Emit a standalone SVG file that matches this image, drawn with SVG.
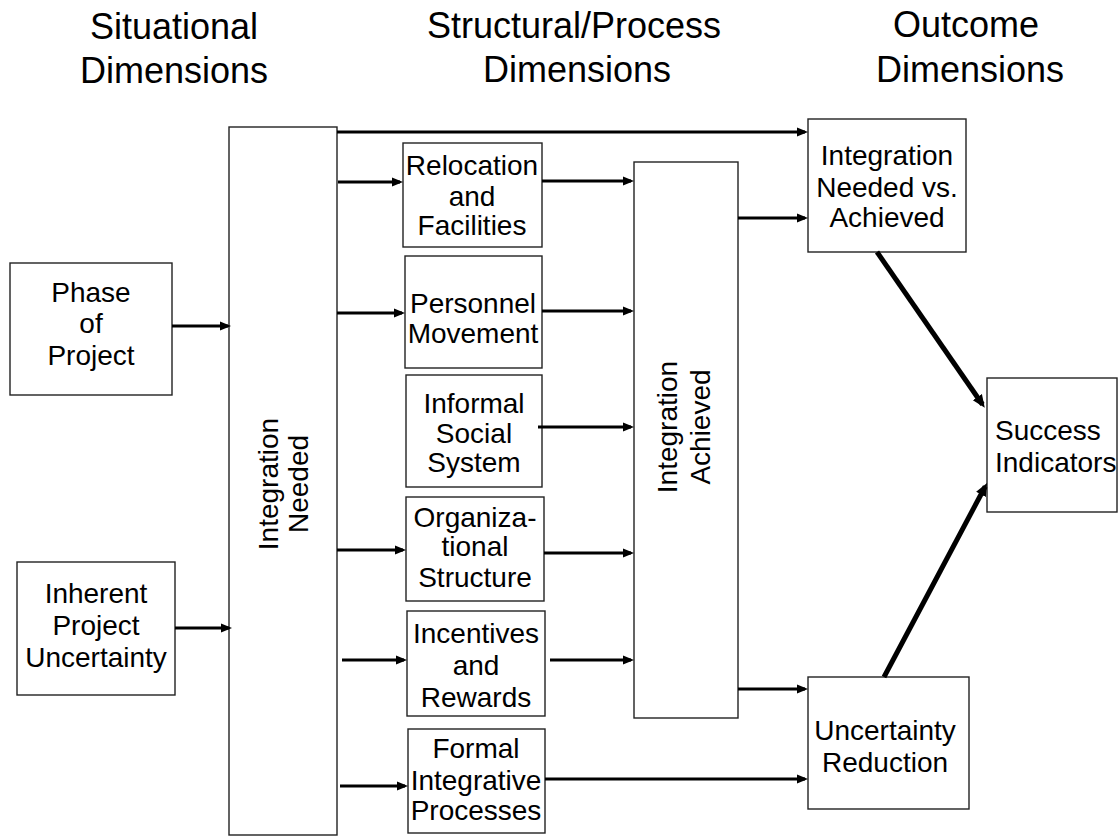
<svg xmlns="http://www.w3.org/2000/svg" width="1118" height="836" viewBox="0 0 1118 836">
<style>
  .box { fill: #fff; stroke: #222; stroke-width: 1.4; }
  .t { font-family: "Liberation Sans", Arial, sans-serif; font-size: 28px; fill: #000; text-anchor: middle; }
  .h { font-family: "Liberation Sans", Arial, sans-serif; font-size: 36px; fill: #000; text-anchor: middle; }
  .c { stroke: #000; stroke-width: 3; fill: none; marker-end: url(#ah); }
  .d { stroke: #000; stroke-width: 5; fill: none; marker-end: url(#ah2); }
</style>
<defs>
  <marker id="ah" markerUnits="userSpaceOnUse" markerWidth="12" markerHeight="10" refX="8" refY="5" orient="auto">
    <path d="M0,0.5 L11,5 L0,9.5 z" fill="#000"/>
  </marker>
  <marker id="ah2" markerUnits="userSpaceOnUse" markerWidth="14" markerHeight="12" refX="9" refY="6" orient="auto">
    <path d="M0,0.5 L13,6 L0,11.5 z" fill="#000"/>
  </marker>
</defs>
<rect width="1118" height="836" fill="#fff"/>

<g id="headers">
  <text class="h" x="174" y="39">Situational</text>
  <text class="h" x="174" y="83">Dimensions</text>
  <text class="h" x="574" y="38">Structural/Process</text>
  <text class="h" x="577" y="82">Dimensions</text>
  <text class="h" x="966" y="37">Outcome</text>
  <text class="h" x="970" y="82">Dimensions</text>
</g>

<g id="phase">
  <rect class="box" x="10" y="263" width="162" height="132"/>
  <text class="t" x="91" y="302">Phase</text>
  <text class="t" x="91" y="333">of</text>
  <text class="t" x="91" y="365">Project</text>
</g>
<g id="inherent">
  <rect class="box" x="17" y="562" width="158" height="133"/>
  <text class="t" x="96" y="603">Inherent</text>
  <text class="t" x="96" y="635">Project</text>
  <text class="t" x="96" y="667">Uncertainty</text>
</g>
<g id="integration-needed">
  <rect class="box" x="229" y="127" width="108" height="708"/>
  <g transform="translate(283,484) rotate(-90)">
    <text class="t" x="0" y="-5">Integration</text>
    <text class="t" x="0" y="25">Needed</text>
  </g>
</g>
<g id="relocation">
  <rect class="box" x="403" y="143" width="139" height="104"/>
  <text class="t" x="472" y="175">Relocation</text>
  <text class="t" x="472" y="206">and</text>
  <text class="t" x="472" y="235">Facilities</text>
</g>
<g id="personnel">
  <rect class="box" x="405" y="256" width="137" height="112"/>
  <text class="t" x="473" y="313">Personnel</text>
  <text class="t" x="473" y="343">Movement</text>
</g>
<g id="informal">
  <rect class="box" x="406" y="375" width="136" height="112"/>
  <text class="t" x="474" y="413">Informal</text>
  <text class="t" x="474" y="443">Social</text>
  <text class="t" x="474" y="472">System</text>
</g>
<g id="organizational">
  <rect class="box" x="406" y="497" width="138" height="104"/>
  <text class="t" x="475" y="527">Organiza-</text>
  <text class="t" x="475" y="556">tional</text>
  <text class="t" x="475" y="587">Structure</text>
</g>
<g id="incentives">
  <rect class="box" x="407" y="611" width="138" height="105"/>
  <text class="t" x="476" y="643">Incentives</text>
  <text class="t" x="476" y="675">and</text>
  <text class="t" x="476" y="707">Rewards</text>
</g>
<g id="formal">
  <rect class="box" x="408" y="729" width="137" height="104"/>
  <text class="t" x="476" y="758">Formal</text>
  <text class="t" x="476" y="790">Integrative</text>
  <text class="t" x="476" y="820">Processes</text>
</g>
<g id="integration-achieved">
  <rect class="box" x="634" y="162" width="104" height="556"/>
  <g transform="translate(690,427) rotate(-90)">
    <text class="t" x="0" y="-13">Integration</text>
    <text class="t" x="0" y="20">Achieved</text>
  </g>
</g>
<g id="needed-vs-achieved">
  <rect class="box" x="808" y="119" width="158" height="133"/>
  <text class="t" x="887" y="165">Integration</text>
  <text class="t" x="887" y="197">Needed vs.</text>
  <text class="t" x="887" y="227">Achieved</text>
</g>
<g id="success">
  <rect class="box" x="987" y="378" width="130" height="134"/>
  <text class="t" x="995" y="440" style="text-anchor:start">Success</text>
  <text class="t" x="995" y="472" style="text-anchor:start">Indicators</text>
</g>
<g id="uncertainty-reduction">
  <rect class="box" x="808" y="677" width="161" height="132"/>
  <text class="t" x="885" y="740">Uncertainty</text>
  <text class="t" x="885" y="772">Reduction</text>
</g>

<g id="connectors">
  <line class="c" x1="172" y1="326" x2="228" y2="326"/>
  <line class="c" x1="175" y1="628" x2="229" y2="628"/>
  <line class="c" x1="337" y1="132" x2="805" y2="132"/>
  <line class="c" x1="338" y1="182" x2="400" y2="182"/>
  <line class="c" x1="337" y1="313" x2="402" y2="313"/>
  <line class="c" x1="337" y1="550" x2="403" y2="550"/>
  <line class="c" x1="342" y1="660" x2="404" y2="660"/>
  <line class="c" x1="340" y1="786" x2="405" y2="786"/>
  <line class="c" x1="542" y1="181" x2="631" y2="181"/>
  <line class="c" x1="542" y1="311" x2="631" y2="311"/>
  <line class="c" x1="538" y1="427" x2="631" y2="427"/>
  <line class="c" x1="544" y1="553" x2="631" y2="553"/>
  <line class="c" x1="550" y1="660" x2="631" y2="660"/>
  <line class="c" x1="738" y1="218" x2="805" y2="218"/>
  <line class="c" x1="738" y1="689" x2="805" y2="689"/>
  <line class="c" x1="545" y1="779" x2="805" y2="779"/>
  <line class="d" x1="877" y1="252" x2="982.5" y2="404.5"/>
  <line class="d" x1="884" y1="677" x2="985.2" y2="486.5"/>
</g>
</svg>
